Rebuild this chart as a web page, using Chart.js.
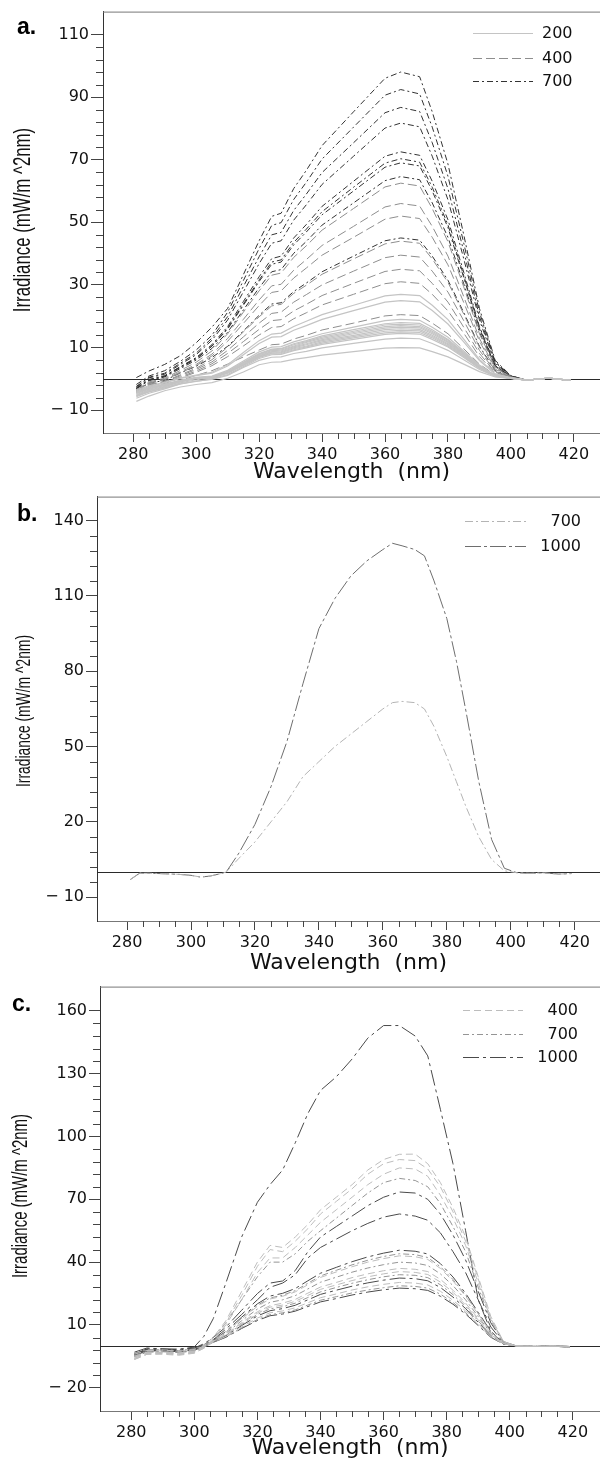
<!DOCTYPE html>
<html>
<head>
<meta charset="utf-8">
<script src="https://cdn.jsdelivr.net/npm/chart.js@4.4.1/dist/chart.umd.min.js"></script>
<style>
  html, body { margin: 0; padding: 0; background: #fff; }
  body { width: 600px; height: 1460px; position: relative; overflow: hidden; }
  canvas { position: absolute; left: 0; }
  .tag { position: absolute; font: bold 23px "Liberation Sans", Arial, sans-serif; line-height: 23px; color: #000; }
  .ytitle {
    position: absolute; white-space: nowrap; line-height: 1; color: #111;
    font-family: "Liberation Sans", Arial, sans-serif;
  }
</style>
</head>
<body>
<canvas id="chartA" width="600" height="485" style="top:0"></canvas>
<canvas id="chartB" width="600" height="490" style="top:485px"></canvas>
<canvas id="chartC" width="600" height="485" style="top:975px"></canvas>
<div class="tag" style="left:17px;top:15px">a.</div>
<div class="tag" style="left:17px;top:502px">b.</div>
<div class="tag" style="left:12px;top:992px">c.</div>
<div class="ytitle" style="left:22px;top:220px;font-size:24px;transform:translate(-50%,-50%) rotate(-90deg) scaleX(0.7)">Irradiance (mW/m ^2nm)</div>
<div class="ytitle" style="left:22px;top:711px;font-size:21px;transform:translate(-50%,-50%) rotate(-90deg) scaleX(0.66)">Irradiance (mW/m ^2nm)</div>
<div class="ytitle" style="left:20px;top:1196px;font-size:22px;transform:translate(-50%,-50%) rotate(-90deg) scaleX(0.68)">Irradiance (mW/m ^2nm)</div>
<script>
// x ticks shared by all panels
const X_TICKS = [280, 300, 320, 340, 360, 380, 400, 420];

// ---- panel a ----
const WL_A = [281, 285, 290, 295, 300, 305, 310, 315, 320, 324, 327, 331, 335, 340, 350, 360, 365, 371, 375, 380, 385, 390, 395, 400, 405, 412, 419];
const Y_TICKS_A = [-10, 10, 30, 50, 70, 90, 110];

const A200_1 = [-7.2, -5.5, -3.8, -2.6, -1.8, -1.2, 0.2, 2.2, 4.5, 5.3, 5.4, 6.2, 6.8, 7.6, 8.7, 9.8, 10.0, 9.9, 8.7, 7.0, 4.7, 2.3, 0.6, 0.1, -0.4, 0.2, -0.5];
const A200_2 = [-5.4, -4.1, -2.9, -1.6, -0.7, -0.2, 1.1, 3.6, 5.9, 6.9, 7.0, 8.1, 8.8, 9.9, 11.3, 12.7, 13.0, 12.8, 11.3, 9.1, 6.1, 3.0, 0.8, 0.1, -0.4, 0.2, -0.5];
const A200_3 = [-6.2, -4.6, -3.2, -1.6, -0.8, 0.0, 1.4, 3.9, 6.5, 7.7, 7.8, 9.0, 9.9, 11.0, 12.6, 14.2, 14.5, 14.3, 12.6, 10.2, 6.8, 3.3, 0.9, 0.1, -0.4, 0.2, -0.5];
const A200_4 = [-5.7, -4.2, -2.9, -1.3, -0.3, 0.3, 1.8, 4.3, 6.8, 8.0, 8.1, 9.3, 10.2, 11.4, 13.1, 14.7, 15.0, 14.8, 13.1, 10.5, 7.1, 3.5, 0.9, 0.2, -0.4, 0.2, -0.5];
const A200_5 = [-5.0, -3.6, -2.4, -1.0, 0.1, 0.3, 1.9, 4.5, 7.0, 8.2, 8.4, 9.6, 10.5, 11.8, 13.5, 15.2, 15.5, 15.3, 13.5, 10.9, 7.3, 3.6, 0.9, 0.2, -0.4, 0.2, -0.5];
const A200_6 = [-5.3, -3.8, -2.6, -0.8, 0.1, 0.4, 2.0, 4.6, 7.2, 8.5, 8.6, 9.9, 10.9, 12.2, 13.9, 15.7, 16.0, 15.8, 13.9, 11.2, 7.5, 3.7, 1.0, 0.2, -0.4, 0.2, -0.5];
const A200_7 = [-4.7, -3.3, -2.1, -0.8, 0.2, 0.5, 2.1, 4.8, 7.4, 8.7, 8.9, 10.2, 11.2, 12.5, 14.4, 16.2, 16.5, 16.3, 14.4, 11.6, 7.8, 3.8, 1.0, 0.2, -0.4, 0.2, -0.5];
const A200_8 = [-4.6, -3.2, -2.0, -0.7, 0.3, 0.6, 2.2, 5.0, 7.7, 9.0, 9.2, 10.5, 11.6, 12.9, 14.8, 16.7, 17.0, 16.7, 14.8, 11.9, 8.0, 3.9, 1.0, 0.2, -0.4, 0.2, -0.5];
const A200_9 = [-4.5, -3.1, -1.9, -0.6, 0.3, 0.6, 2.3, 5.2, 7.9, 9.3, 9.5, 10.9, 11.9, 13.3, 15.2, 17.2, 17.5, 17.2, 15.2, 12.3, 8.2, 4.0, 1.1, 0.2, -0.4, 0.2, -0.5];
const A200_10 = [-4.3, -3.0, -1.8, -0.6, 0.4, 0.7, 2.4, 5.3, 8.1, 9.5, 9.7, 11.2, 12.2, 13.7, 15.7, 17.6, 18.0, 17.7, 15.7, 12.6, 8.5, 4.1, 1.1, 0.2, -0.4, 0.2, -0.5];
const A200_11 = [-4.1, -2.8, -1.7, -0.4, 0.5, 0.9, 2.7, 5.7, 8.6, 10.1, 10.3, 11.8, 12.9, 14.4, 16.5, 18.6, 19.0, 18.7, 16.5, 13.3, 8.9, 4.4, 1.1, 0.2, -0.4, 0.2, -0.5];
const A200_12 = [-3.8, -2.5, -1.3, 0.1, 1.0, 1.8, 4.1, 7.7, 11.3, 13.3, 13.5, 15.5, 17.0, 19.0, 21.8, 24.5, 25.0, 24.6, 21.8, 17.5, 11.8, 5.8, 1.5, 0.3, -0.4, 0.2, -0.5];
const A200_13 = [-3.5, -2.2, -1.1, 0.3, 1.2, 2.1, 4.5, 8.4, 12.2, 14.3, 14.6, 16.7, 18.4, 20.5, 23.5, 26.5, 27.0, 26.6, 23.5, 18.9, 12.7, 6.2, 1.6, 0.3, -0.4, 0.2, -0.5];

const A400_1 = [-4.4, -2.7, -2.1, -0.5, 1.1, 2.6, 4.7, 7.0, 9.2, 10.9, 11.1, 12.7, 13.9, 15.6, 17.8, 20.1, 20.5, 20.2, 17.8, 14.4, 9.6, 4.7, 1.2, 0.2, -0.4, 0.2, -0.5];
const A400_2 = [-4.2, -2.3, -1.5, 0.3, 2.1, 4.2, 7.1, 10.5, 14.0, 16.4, 16.7, 19.2, 21.1, 23.6, 27.0, 30.4, 31.0, 30.5, 27.0, 21.7, 14.6, 7.1, 1.9, 0.3, -0.4, 0.2, -0.5];
const A400_3 = [-4.1, -2.1, -1.3, 0.6, 2.5, 4.8, 8.1, 11.9, 15.8, 18.6, 18.9, 21.7, 23.8, 26.6, 30.5, 34.3, 35.0, 34.5, 30.5, 24.5, 16.5, 8.1, 2.1, 0.4, -0.4, 0.2, -0.5];
const A400_4 = [-4.0, -1.9, -1.0, 1.0, 3.0, 5.4, 9.1, 13.4, 17.8, 20.9, 21.3, 24.5, 26.9, 30.0, 34.4, 38.7, 39.5, 38.9, 34.4, 27.7, 18.6, 9.1, 2.4, 0.4, -0.4, 0.2, -0.5];
const A400_5 = [-3.9, -1.7, -0.8, 1.3, 3.4, 6.1, 10.1, 15.0, 19.8, 23.3, 23.8, 27.3, 29.9, 33.4, 38.3, 43.1, 44.0, 43.3, 38.3, 30.8, 20.7, 10.1, 2.6, 0.4, -0.4, 0.2, -0.5];
const A400_6 = [-3.8, -1.4, -0.3, 1.9, 4.2, 7.3, 12.0, 17.7, 23.4, 27.6, 28.1, 32.2, 35.4, 39.5, 45.2, 51.0, 52.0, 51.2, 45.2, 36.4, 24.4, 12.0, 3.1, 0.5, -0.4, 0.2, -0.5];
const A400_7 = [-3.7, -1.3, -0.1, 2.2, 4.6, 7.9, 12.9, 19.0, 25.2, 29.7, 30.2, 34.7, 38.1, 42.6, 48.7, 54.9, 56.0, 55.2, 48.7, 39.2, 26.3, 12.9, 3.4, 0.6, -0.4, 0.2, -0.5];
const A400_8 = [-3.5, -1.0, 0.2, 2.7, 5.3, 8.9, 14.4, 21.3, 28.1, 33.1, 33.8, 38.8, 42.5, 47.5, 54.4, 61.3, 62.5, 61.6, 54.4, 43.8, 29.4, 14.4, 3.8, 0.6, -0.4, 0.2, -0.5];

const A700_1 = [-3.6, -1.4, -0.5, 1.9, 4.0, 6.8, 10.4, 15.3, 20.3, 23.9, 24.3, 27.9, 30.6, 34.2, 39.2, 44.1, 45.0, 44.3, 39.2, 31.5, 21.2, 10.4, 2.7, 0.5, -0.4, 0.2, -0.5];
const A700_2 = [-3.2, -0.6, 0.6, 3.3, 6.0, 9.7, 14.9, 22.0, 29.1, 34.2, 34.9, 40.1, 43.9, 49.1, 56.2, 63.3, 64.6, 63.6, 56.2, 45.2, 30.4, 14.9, 3.9, 0.6, -0.4, 0.2, -0.5];
const A700_3 = [-3.1, -0.4, 0.8, 3.7, 6.4, 10.4, 15.9, 23.5, 31.1, 36.6, 37.3, 42.8, 46.9, 52.4, 60.0, 67.6, 69.0, 68.0, 60.0, 48.3, 32.4, 15.9, 4.1, 0.7, -0.4, 0.2, -0.5];
const A700_4 = [-3.0, -0.3, 0.9, 3.8, 6.5, 10.5, 16.2, 23.9, 31.6, 37.3, 38.0, 43.6, 47.8, 53.4, 61.2, 68.9, 70.3, 69.2, 61.2, 49.2, 33.0, 16.2, 4.2, 0.7, -0.4, 0.2, -0.5];
const A700_5 = [-2.9, -0.2, 1.0, 3.9, 6.8, 10.9, 16.7, 24.7, 32.6, 38.4, 39.2, 45.0, 49.3, 55.1, 63.1, 71.1, 72.5, 71.4, 63.1, 50.8, 34.1, 16.7, 4.4, 0.7, -0.4, 0.2, -0.5];
const A700_6 = [-2.6, 0.3, 1.5, 4.6, 7.7, 12.3, 18.8, 27.8, 36.8, 43.3, 44.1, 50.7, 55.6, 62.1, 71.1, 80.1, 81.7, 80.5, 71.1, 57.2, 38.4, 18.8, 4.9, 0.8, -0.4, 0.2, -0.5];
const A700_7 = [-2.4, 0.5, 1.8, 5.0, 8.2, 13.0, 19.9, 29.5, 39.0, 46.0, 46.8, 53.8, 59.0, 65.9, 75.4, 85.0, 86.7, 85.4, 75.4, 60.7, 40.8, 19.9, 5.2, 0.9, -0.4, 0.2, -0.5];
const A700_8 = [-1.8, 0.9, 2.6, 5.6, 9.2, 13.9, 21.3, 31.4, 41.6, 49.0, 49.9, 57.3, 62.8, 70.2, 80.4, 90.6, 92.4, 91.0, 80.4, 64.7, 43.4, 21.3, 5.5, 0.9, -0.4, 0.2, -0.5];
const A700_9 = [0.4, 2.5, 4.6, 7.4, 11.5, 16.5, 22.5, 33.3, 44.1, 51.9, 52.9, 60.8, 66.6, 74.5, 85.3, 96.0, 98.0, 96.5, 85.3, 68.6, 46.1, 22.5, 5.9, 1.0, -0.4, 0.2, -0.5];

// ---- panel b ----
const WL_B = [281, 284, 288, 292, 296, 300, 303, 306, 309, 311, 315, 320, 325, 330, 335, 340, 345, 350, 355, 360, 363, 366, 370, 373, 376, 380, 383, 386, 390, 394, 398, 402, 406, 410, 415, 419];
const Y_TICKS_B = [-10, 20, 50, 80, 110, 140];
const B700 = [-3, -0.4, -0.5, -0.7, -0.9, -1.3, -2.0, -1.6, -0.7, 0, 5.5, 12, 20, 28, 38, 44, 50, 55, 60, 65, 67.5, 68, 67.5, 65, 58, 46, 36, 26, 14, 5, 0.5, -0.3, -0.5, -0.3, -0.8, -0.6];
const B1000 = [-3, -0.4, -0.5, -0.7, -0.9, -1.3, -2.0, -1.6, -0.7, 0, 7.6, 19, 34, 52, 75, 97, 109, 118, 124, 128.5, 131, 130, 128.5, 126, 116, 101, 84, 64, 36, 13, 1.5, -0.3, -0.5, -0.3, -0.8, -0.6];

// ---- panel c ----
const WL_C = [281, 285, 290, 295, 300, 303, 306, 310, 315, 320, 324, 328, 332, 336, 340, 345, 350, 355, 360, 365, 370, 374, 378, 382, 386, 390, 394, 398, 402, 408, 414, 419];
const Y_TICKS_C = [-20, 10, 40, 70, 100, 130, 160];

const C400_1 = [-5, -3, -3, -3.5, -2.5, 0, 4, 12, 26, 40, 48, 47, 52, 58, 65, 71, 77, 84, 89, 91.5, 91.6, 87, 78, 66, 52, 33, 14, 2, 0, -0.3, 0, -0.3];
const C400_2 = [-6, -3.5, -3.5, -4, -3, -0.5, 3, 11, 24, 38, 46, 45, 50, 56, 63, 69, 75, 82, 87, 89, 88.5, 84.5, 76, 64, 50, 32, 13, 2, 0, -0.3, 0, -0.3];
const C400_3 = [-6.5, -4, -4, -4.5, -3.5, -1, 2.5, 10, 22, 35, 42, 42, 47, 53, 59, 65, 71, 77, 82, 85, 84.5, 81, 72, 61, 48, 30, 12.5, 2, 0, -0.3, 0, -0.3];
const C400_4 = [-6, -3.5, -3.2, -3.8, -3, -1, 2.6, 6.5, 12.9, 18.9, 22.4, 23.7, 25.8, 29.2, 32.7, 35.3, 37.8, 40.0, 41.7, 43.0, 42.6, 41.3, 37.0, 31.0, 23.7, 15.1, 6.5, 1.3, 0, -0.3, -0.2, -0.5];
const C400_5 = [-5.5, -3.2, -3, -3.4, -2.6, -0.8, 2.2, 5.6, 11.1, 16.3, 19.2, 20.4, 22.2, 25.2, 28.1, 30.3, 32.6, 34.4, 35.9, 37.0, 36.6, 35.5, 31.8, 26.6, 20.4, 13.0, 5.6, 1.1, 0, -0.3, -0.2, -0.5];
const C400_6 = [-4, -2.2, -2, -2.5, -1.8, -0.2, 2.1, 5.3, 10.7, 15.6, 18.5, 19.5, 21.3, 24.1, 27.0, 29.1, 31.2, 33.0, 34.4, 35.5, 35.1, 34.1, 30.5, 25.6, 19.5, 12.4, 5.3, 1.1, 0, -0.3, -0.2, -0.5];
const C400_7 = [-6.5, -4, -3.6, -4.2, -3.3, -1.2, 1.8, 4.5, 9.1, 13.3, 15.8, 16.7, 18.2, 20.6, 23.0, 24.8, 26.7, 28.2, 29.4, 30.3, 30.0, 29.1, 26.1, 21.8, 16.7, 10.6, 4.5, 0.9, 0, -0.3, -0.2, -0.5];

const C700_1 = [-5, -2.5, -2.5, -3, -2, 0.5, 4, 11, 22, 33, 40, 40, 44, 50, 55, 61, 67, 73, 78, 80, 79, 76, 68, 57, 45, 28, 12, 2, 0, -0.3, 0, -0.3];
const C700_2 = [-3.5, -1.8, -1.8, -2.2, -1.5, 0, 2.6, 6.6, 13.2, 19.4, 22.9, 24.2, 26.4, 29.9, 33.4, 36.1, 38.7, 40.9, 42.7, 44.0, 43.6, 42.2, 37.8, 31.7, 24.2, 15.4, 6.6, 1.3, 0, -0.3, -0.2, -0.5];
const C700_3 = [-5, -2.8, -2.6, -3, -2.3, -0.5, 2.4, 6.0, 12.0, 17.6, 20.8, 22.0, 24.0, 27.2, 30.4, 32.8, 35.2, 37.2, 38.8, 40.0, 39.6, 38.4, 34.4, 28.8, 22.0, 14.0, 6.0, 1.2, 0, -0.3, -0.2, -0.5];
const C700_4 = [-4.8, -2.6, -2.4, -2.9, -2.1, -0.4, 2.0, 5.1, 10.2, 15.0, 17.7, 18.7, 20.4, 23.1, 25.8, 27.9, 29.9, 31.6, 33.0, 34.0, 33.7, 32.6, 29.2, 24.5, 18.7, 11.9, 5.1, 1.0, 0, -0.3, -0.2, -0.5];
const C700_5 = [-5.2, -3, -2.8, -3.2, -2.5, -0.7, 1.7, 4.3, 8.6, 12.6, 14.9, 15.8, 17.2, 19.5, 21.8, 23.5, 25.3, 26.7, 27.8, 28.7, 28.4, 27.6, 24.7, 20.7, 15.8, 10.0, 4.3, 0.9, 0, -0.3, -0.2, -0.5];

const C1000_1 = [-4, -1.5, -1.5, -1.8, -0.5, 4.5, 13, 30, 52, 68.6, 77, 84, 97, 111, 122, 128.5, 137, 147, 153, 153, 148, 138.5, 113, 87, 55, 22, 7, 1, 0, -0.2, 0, -0.5];
const C1000_2 = [-3, -1, -1.5, -1.5, -1, 1, 4, 9, 17, 25, 30, 31, 36, 45, 52, 57, 62, 67, 71, 73.5, 73, 70, 63, 53, 41, 26, 11, 2, 0, -0.3, 0, -0.3];
const C1000_3 = [-4, -1.5, -1.5, -2, -1, 0.5, 3, 8, 15, 22, 28, 30, 34, 42, 47, 51, 55, 58.5, 61.5, 63, 62, 60, 54, 45, 35, 22, 9, 1.5, 0, -0.3, 0, -0.3];
const C1000_4 = [-4.5, -2.5, -2.3, -2.8, -2.0, -0.3, 2.7, 6.9, 13.7, 20.1, 23.8, 25.1, 27.4, 31.1, 34.7, 37.5, 40.2, 42.5, 44.3, 45.7, 45.2, 43.9, 39.3, 32.9, 25.1, 16.0, 6.9, 1.4, 0, -0.3, -0.2, -0.5];
const C1000_5 = [-3.8, -1.9, -1.9, -2.3, -1.6, 0, 1.9, 4.9, 9.7, 14.3, 16.8, 17.8, 19.4, 22.0, 24.6, 26.6, 28.5, 30.1, 31.4, 32.4, 32.1, 31.1, 27.9, 23.3, 17.8, 11.3, 4.9, 1.0, 0, -0.3, -0.2, -0.5];
const C1000_6 = [-4.2, -2.3, -2.1, -2.6, -1.9, -0.2, 1.7, 4.1, 8.3, 12.1, 14.4, 15.2, 16.6, 18.8, 21.0, 22.6, 24.3, 25.7, 26.8, 27.6, 27.3, 26.5, 23.7, 19.9, 15.2, 9.7, 4.1, 0.8, 0, -0.3, -0.2, -0.5];

const TITLE_X = 'Wavelength  (nm)';

Chart.defaults.font.family = '"DejaVu Sans", sans-serif';

function series(wl, vals, label, style) {
    return {
        label: label,
        data: wl.map((x, i) => ({ x: x, y: vals[i] })),
        borderColor: style.color,
        borderDash: style.dash,
        borderWidth: style.width || 1,
        pointRadius: 0,
        fill: false,
        tension: 0,
    };
}

// axis frame extras: zero line, top border, minor ticks, inset legend
const frame = {
    id: 'frame',
    beforeDatasetsDraw(chart, args, o) {
        const { ctx, chartArea: a, scales: { y } } = chart;
        const y0 = Math.round(y.getPixelForValue(0)) + 0.5;
        ctx.save();
        ctx.strokeStyle = '#2a2a2a';
        ctx.lineWidth = 1;
        ctx.beginPath();
        ctx.moveTo(a.left, y0);
        ctx.lineTo(a.right, y0);
        ctx.stroke();
        ctx.restore();
    },
    afterDraw(chart, args, o) {
        const { ctx, chartArea: a, scales: { x, y } } = chart;
        ctx.save();
        ctx.lineWidth = 1;
        ctx.strokeStyle = '#777';
        ctx.beginPath();
        ctx.moveTo(a.left, a.top + 0.5);
        ctx.lineTo(a.right, a.top + 0.5);
        ctx.stroke();

        ctx.strokeStyle = '#444';
        ctx.beginPath();
        for (let v = X_TICKS[0]; v <= X_TICKS[X_TICKS.length - 1]; v += 5) {
            if (X_TICKS.includes(v)) continue;
            const px = Math.round(x.getPixelForValue(v)) + 0.5;
            ctx.moveTo(px, a.bottom);
            ctx.lineTo(px, a.bottom + 6);
        }
        const yt = o.yTicks;
        for (let v = yt[0]; v <= yt[yt.length - 1]; v += o.yMinor) {
            if (yt.includes(v)) continue;
            const py = Math.round(y.getPixelForValue(v)) + 0.5;
            ctx.moveTo(a.left - 7, py);
            ctx.lineTo(a.left, py);
        }
        ctx.stroke();

        const lg = o.legend;
        lg.items.forEach((it, i) => {
            const ly = lg.y[i] + 0.5;
            ctx.strokeStyle = it.color;
            ctx.lineWidth = it.width || 1;
            ctx.setLineDash(it.dash);
            ctx.beginPath();
            ctx.moveTo(lg.x0, ly);
            ctx.lineTo(lg.x1, ly);
            ctx.stroke();
            ctx.setLineDash([]);
            ctx.fillStyle = '#111';
            ctx.font = '16px "DejaVu Sans", sans-serif';
            ctx.textAlign = lg.align;
            ctx.textBaseline = 'middle';
            ctx.fillText(it.label, lg.tx, ly);
        });
        ctx.restore();
    },
};

function panel(id, p) {
    return new Chart(document.getElementById(id), {
        type: 'line',
        data: { datasets: p.datasets },
        options: {
            responsive: false,
            animation: false,
            events: [],
            layout: { padding: { top: p.padTop, left: 0, right: 0, bottom: 0 } },
            plugins: {
                legend: { display: false },
                tooltip: { enabled: false },
                frame: { yTicks: p.yTicks, yMinor: p.yMinor, legend: p.legend },
            },
            scales: {
                x: {
                    type: 'linear',
                    min: p.xMin,
                    max: p.xMax,
                    afterBuildTicks: s => { s.ticks = X_TICKS.map(v => ({ value: v })); },
                    afterFit: s => { s.height = p.xHeight; },
                    grid: { drawOnChartArea: false, tickLength: 9, tickColor: '#444' },
                    border: { color: '#777' },
                    ticks: { color: '#111', font: { size: 16 }, padding: 3, maxRotation: 0, autoSkip: false },
                    title: {
                        display: true,
                        text: TITLE_X,
                        color: '#111',
                        font: { size: 22, lineHeight: 1 },
                        padding: { top: 0, bottom: p.xTitlePad },
                    },
                },
                y: {
                    min: p.yMin,
                    max: p.yMax,
                    afterBuildTicks: s => { s.ticks = p.yTicks.map(v => ({ value: v })); },
                    afterFit: s => { s.width = p.yWidth; },
                    grid: { drawOnChartArea: false, tickLength: p.yTickLen, tickColor: '#444' },
                    border: { color: '#333' },
                    ticks: {
                        color: '#111',
                        font: { size: 16 },
                        padding: 2,
                        autoSkip: false,
                        callback: v => (v < 0 ? '\u2212 ' + (-v) : String(v)),
                    },
                },
            },
        },
        plugins: [frame],
    });
}

const A_LIGHT = { color: '#c4c4c4', dash: [], width: 1.2 };
const A_GRAY = { color: '#8e8e8e', dash: [9, 4] };
const A_DARK = { color: '#333333', dash: [6, 3, 2, 3] };

const a200 = [A200_1, A200_2, A200_3, A200_4, A200_5, A200_6, A200_7, A200_8, A200_9, A200_10, A200_11, A200_12, A200_13];
const a400 = [A400_1, A400_2, A400_3, A400_4, A400_5, A400_6, A400_7, A400_8];
const a700 = [A700_1, A700_2, A700_3, A700_4, A700_5, A700_6, A700_7, A700_8, A700_9];

panel('chartA', {
    datasets: [
        ...a200.map(v => series(WL_A, v, '200', A_LIGHT)),
        ...a400.map(v => series(WL_A, v, '400', A_GRAY)),
        ...a700.map(v => series(WL_A, v, '700', A_DARK)),
    ],
    padTop: 7, xHeight: 52, yWidth: 103,
    xMin: 270.4, xMax: 428.3, yMin: -17.3, yMax: 117.3,
    yTicks: Y_TICKS_A, yMinor: 4, yTickLen: 12,
    xTitlePad: 2,
    legend: {
        x0: 473, x1: 533, tx: 542, align: 'left', y: [33, 58, 81],
        items: [
            { label: '200', ...A_LIGHT },
            { label: '400', ...A_GRAY },
            { label: '700', ...A_DARK },
        ],
    },
});

const B_700 = { color: '#b4b4b4', dash: [8, 3, 2, 3] };
const B_1000 = { color: '#6e6e6e', dash: [16, 3, 3, 3] };

panel('chartB', {
    datasets: [
        series(WL_B, B700, '700', B_700),
        series(WL_B, B1000, '1000', B_1000),
    ],
    padTop: 9, xHeight: 54, yWidth: 97,
    xMin: 270.6, xMax: 427.9, yMin: -19.5, yMax: 149.6,
    yTicks: Y_TICKS_B, yMinor: 6, yTickLen: 11,
    xTitlePad: 1,
    legend: {
        x0: 465, x1: 526, tx: 581, align: 'right', y: [36, 61],
        items: [
            { label: '700', ...B_700 },
            { label: '1000', ...B_1000 },
        ],
    },
});

const C_400 = { color: '#bdbdbd', dash: [7, 4] };
const C_700 = { color: '#959595', dash: [6, 3, 2, 3] };
const C_1000 = { color: '#4a4a4a', dash: [16, 4, 3, 4] };

const c400 = [C400_1, C400_2, C400_3, C400_4, C400_5, C400_6, C400_7];
const c700 = [C700_1, C700_2, C700_3, C700_4, C700_5];
const c1000 = [C1000_1, C1000_2, C1000_3, C1000_4, C1000_5, C1000_6];

panel('chartC', {
    datasets: [
        ...c400.map(v => series(WL_C, v, '400', C_400)),
        ...c700.map(v => series(WL_C, v, '700', C_700)),
        ...c1000.map(v => series(WL_C, v, '1000', C_1000)),
    ],
    padTop: 8, xHeight: 49, yWidth: 100,
    xMin: 270.1, xMax: 428.6, yMin: -31.1, yMax: 171.6,
    yTicks: Y_TICKS_C, yMinor: 6, yTickLen: 11,
    xTitlePad: 1,
    legend: {
        x0: 463, x1: 523, tx: 578, align: 'right', y: [35, 59, 82],
        items: [
            { label: '400', ...C_400 },
            { label: '700', ...C_700 },
            { label: '1000', ...C_1000 },
        ],
    },
});
</script>
</body>
</html>
